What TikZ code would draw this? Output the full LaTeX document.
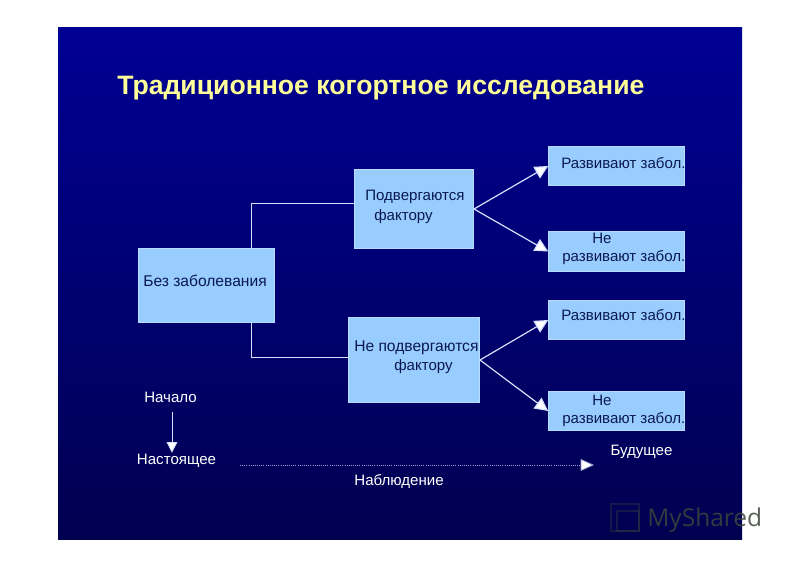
\documentclass[tikz,border=0pt]{standalone}
\usepackage{fontspec}
\setmainfont{Liberation Sans}
\usetikzlibrary{arrows.meta,calc}
\tikzset{
  box/.style={draw=boxedge,fill=boxfill,line width=0.5pt,inner sep=0pt,minimum width=#1},
  boxtext/.style={anchor=west,inner sep=0pt,text=boxink,font=\fontsize{11.3}{13}\selectfont},
  widetext/.style={anchor=west,inner sep=0pt,text=boxink,font=\fontsize{11.7}{13}\selectfont},
  lighttext/.style={inner sep=0pt,text=white,font=\fontsize{11.3}{13}\selectfont},
  link/.style={draw=linkcol,line width=0.6pt},
  arrowlink/.style={draw=linkcol,line width=0.9pt,-{Triangle[length=10pt,width=10pt,fill=white]}}
}
\definecolor{boxfill}{HTML}{99CCFF}
\definecolor{boxedge}{HTML}{B8DCFF}
\definecolor{boxink}{HTML}{0A1A50}
\definecolor{linkcol}{HTML}{D8E0FF}
\definecolor{titlecol}{HTML}{FFFF99}
\definecolor{slidetop}{HTML}{000094}
\definecolor{slidebot}{HTML}{000050}
\definecolor{markcol}{HTML}{3C463C}
\begin{document}
\begin{tikzpicture}[x=0.75pt,y=-0.75pt]
\useasboundingbox (0,0) rectangle (800,565);
\fill[white] (0,0) rectangle (800,565);
\shade[top color=slidetop,bottom color=slidebot] (58,27) rectangle (742,539.5);
\node[anchor=west,inner sep=0pt,text=titlecol,font=\bfseries\fontsize{19.95}{24}\selectfont] (title) at (117,88.5) {Традиционное когортное исследование};

\node[box=102pt,minimum height=55.5pt] (free) at (206.5,285.5) {};
\node[box=89.5pt,minimum height=59.5pt] (exp) at (414,209) {};
\node[box=98.5pt,minimum height=64pt] (nonexp) at (414,360) {};
\node[box=102pt,minimum height=29.5pt] (r1) at (616.5,166) {};
\node[box=102pt,minimum height=30pt] (r2) at (616.5,251.5) {};
\node[box=102pt,minimum height=29.5pt] (r3) at (616.5,320) {};
\node[box=102pt,minimum height=29.5pt] (r4) at (616.5,411) {};

\node[widetext] at (143,280.5) {Без заболевания};
\node[boxtext] at (365,196.5) {Подвергаются};
\node[boxtext] at (374,217) {фактору};
\node[widetext] at (354,347.5) {Не подвергаются};
\node[boxtext] at (394,366.5) {фактору};
\node[boxtext] at (561,163) {Развивают забол.};
\node[boxtext] at (592,238) {Не};
\node[boxtext] at (562,258) {развивают забол.};
\node[boxtext] at (561,315.5) {Развивают забол.};
\node[boxtext] at (592,400) {Не};
\node[boxtext] at (562,420) {развивают забол.};

\draw[link] ([xshift=34pt]free.north) |- ([yshift=4.5pt]exp.west);
\draw[link] ([xshift=34pt]free.south) |- ([yshift=2.25pt]nonexp.west);
\draw[arrowlink] (exp.east) -- (r1.west);
\draw[arrowlink] (exp.east) -- (r2.west);
\draw[arrowlink] (nonexp.east) -- (r3.west);
\draw[arrowlink] (nonexp.east) -- (r4.west);

\node[lighttext] (start) at (170.5,397) {Начало};
\node[lighttext] (now) at (176.5,461) {Настоящее};
\node[lighttext] (future) at (641.5,451.5) {Будущее};
\node[lighttext] (obs) at (399,481) {Наблюдение};
\draw[draw=linkcol,line width=0.7pt,-{Triangle[length=8pt,width=8pt,fill=white]}] ([xshift=1.1pt,yshift=-7pt]start.south) -- ([xshift=-3.4pt,yshift=1pt]now.north);
\coordinate (obsstart) at (240,465);
\coordinate (obsend) at (594,465);
\draw[draw=linkcol!70!slidebot,line width=0.6pt,densely dotted,-{Triangle[length=10pt,width=9pt,fill=white]}] (obsstart) -- (obsend);

\node[anchor=west,inner sep=0pt,text=markcol,opacity=0.85,font=\fontsize{18.4}{20}\selectfont] (mark) at (647,520) {\fontspec{Open Sans}MyShared};
\draw[markcol,opacity=0.35,line width=0.9pt] (611,504) rectangle (639,531);
\draw[markcol,opacity=0.35,line width=0.9pt] (617,511) rectangle (639,531);
\end{tikzpicture}
\end{document}
